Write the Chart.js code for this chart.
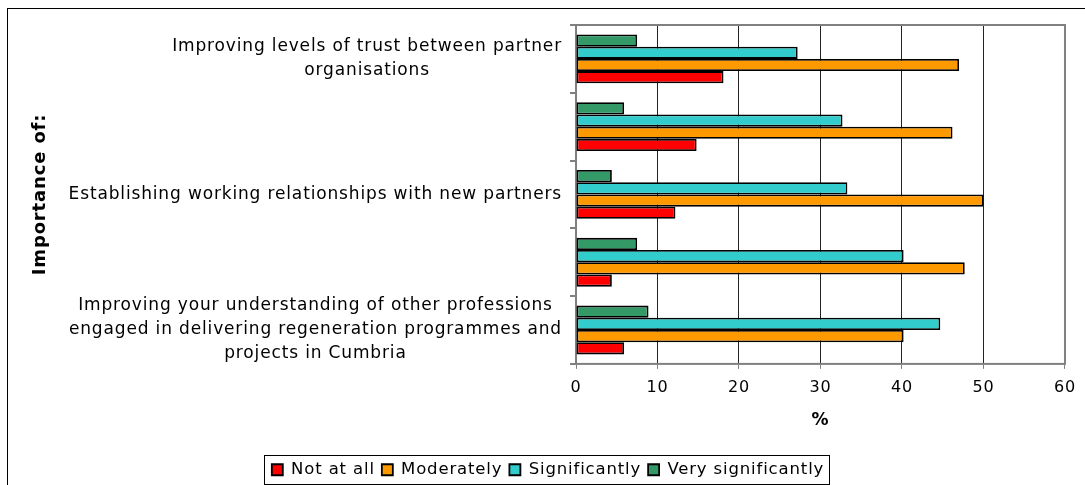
<!DOCTYPE html>
<html>
<head>
<meta charset="utf-8">
<script src="https://cdn.jsdelivr.net/npm/chart.js@4.4.1/dist/chart.umd.min.js"></script>
<style>
    html, body { margin: 0; padding: 0; background: #fff; }
</style>
</head>
<body>
<canvas id="graph" width="1085" height="485"></canvas>
<script>

// カテゴリ(Excelで間引かれたラベルは空文字)
var categories  = [
    ["Improving levels of trust between partner", "organisations"],
    "",
    "Establishing working relationships with new partners",
    "",
    ["Improving your understanding of other professions", "engaged in delivering regeneration programmes and", "projects in Cumbria"]
];

// 系列 (%)
var very_significantly  = [7.5, 5.9, 4.4, 7.5, 8.9];
var significantly       = [27.2, 32.7, 33.3, 40.2, 44.7];
var moderately          = [47.0, 46.2, 50.0, 47.7, 40.2];
var not_at_all          = [18.1, 14.8, 12.2, 4.4, 5.9];

var x_ticks     = [0, 10, 20, 30, 40, 50, 60];

var FONT        = "'DejaVu Sans', Verdana, sans-serif";
var SPACING     = "0.85px";
var CHART       = null;

// 枠線・凡例枠・Y軸ラベルを描く
var frame_plugin = {
    id: "frame",
    // canvasのリサイズで状態が消えるので毎回字間を設定する
    beforeUpdate: function(chart){ chart.ctx.letterSpacing = SPACING; },
    beforeDraw: function(chart){ chart.ctx.letterSpacing = SPACING; },
    beforeDatasetsDraw: function(chart){
        let ctx     = chart.ctx;
        let area    = chart.chartArea;
        ctx.save();
        ctx.strokeStyle = "#808080";
        ctx.lineWidth   = 2;
        ctx.strokeRect(area.left, area.top, area.right - area.left, area.bottom - area.top);
        ctx.restore();
    },
    afterDraw: function(chart){
        let ctx     = chart.ctx;
        ctx.save();

        // 外枠
        ctx.strokeStyle = "#000";
        ctx.lineWidth   = 1;
        ctx.strokeRect(7.5, 8.5, 1300, 700);

        // 凡例の枠
        let boxes   = chart.legend.legendHitBoxes;
        if (boxes && boxes.length){
            let l   = Math.min.apply(null, boxes.map(function(b){ return b.left; }));
            let r   = Math.max.apply(null, boxes.map(function(b){ return b.left + b.width; }));
            let t   = boxes[0].top;
            let h   = boxes[0].height;
            ctx.strokeRect(Math.round(l) - 7.5, Math.round(t + h / 2) - 14.5, Math.round(r - l) + 13, 29);
        }

        // Y軸ラベル(行ごとに中央揃え、ブロックは右揃え)
        let ys  = chart.scales.y;
        ctx.font            = "17px " + FONT;
        ctx.fillStyle       = "#000";
        ctx.textAlign       = "center";
        ctx.textBaseline    = "middle";
        categories.forEach(function(c, i){
            let lines   = Array.isArray(c) ? c : [c];
            let w       = Math.max.apply(null, lines.map(function(s){ return ctx.measureText(s).width; }));
            let cx      = ys.right - 14 - w / 2;
            let y0      = ys.getPixelForTick(i) - (lines.length - 1) * 24 / 2;
            lines.forEach(function(s, j){ ctx.fillText(s, cx, y0 + j * 24); });
        });

        ctx.restore();
    }
};

window.addEventListener("load", function(){

    let ctx = document.getElementById("graph");

    let data = {
        labels: categories,
        datasets: [
            { label: "Very significantly", data: very_significantly, backgroundColor: "#339966" },
            { label: "Significantly",      data: significantly,      backgroundColor: "#33CCCC" },
            { label: "Moderately",         data: moderately,         backgroundColor: "#FF9900" },
            { label: "Not at all",         data: not_at_all,         backgroundColor: "#FF0000" }
        ]
    };
    data.datasets.forEach(function(ds){
        ds.borderColor      = "#000";
        ds.borderWidth      = 1.8;
        ds.borderSkipped    = false;
        ds.barPercentage    = 1.0;
        ds.categoryPercentage = 0.72;
    });

    let options = {
        indexAxis: "y",
        responsive: false,
        animation: false,
        layout: { padding: { left: 30, right: 19, top: 25, bottom: -3 } },
        scales: {
            x: {
                min: x_ticks[0],
                max: x_ticks[x_ticks.length - 1],
                ticks: { stepSize: 10, color: "#000", font: { size: 16, family: FONT }, padding: 9 },
                grid: { color: "#222", lineWidth: 1, tickLength: 5, tickColor: "#808080" },
                border: { display: false },
                title: { display: true, text: "%", color: "#000", font: { size: 17, weight: "bold", family: FONT }, padding: { top: 4, bottom: 24 } }
            },
            y: {
                offset: true,
                afterFit: function(scale){ scale.width = 576 - 30; },
                ticks: { display: false, autoSkip: false },
                grid: { drawOnChartArea: false, offset: true, tickLength: 6, tickColor: "#808080", lineWidth: 2 },
                border: { display: false },
                title: { display: true, text: "Importance of:", color: "#000", font: { size: 18, weight: "bold", family: FONT }, padding: 0 }
            }
        },
        plugins: {
            legend: {
                position: "bottom",
                reverse: true,
                labels: { boxWidth: 11, boxHeight: 11, color: "#000", font: { size: 16.5, family: FONT }, padding: 7 }
            },
            tooltip: { enabled: false }
        }
    };

    CHART = new Chart(ctx, {
        type: "bar",
        data: data,
        options: options,
        plugins: [frame_plugin]
    });
});
</script>
</body>
</html>
